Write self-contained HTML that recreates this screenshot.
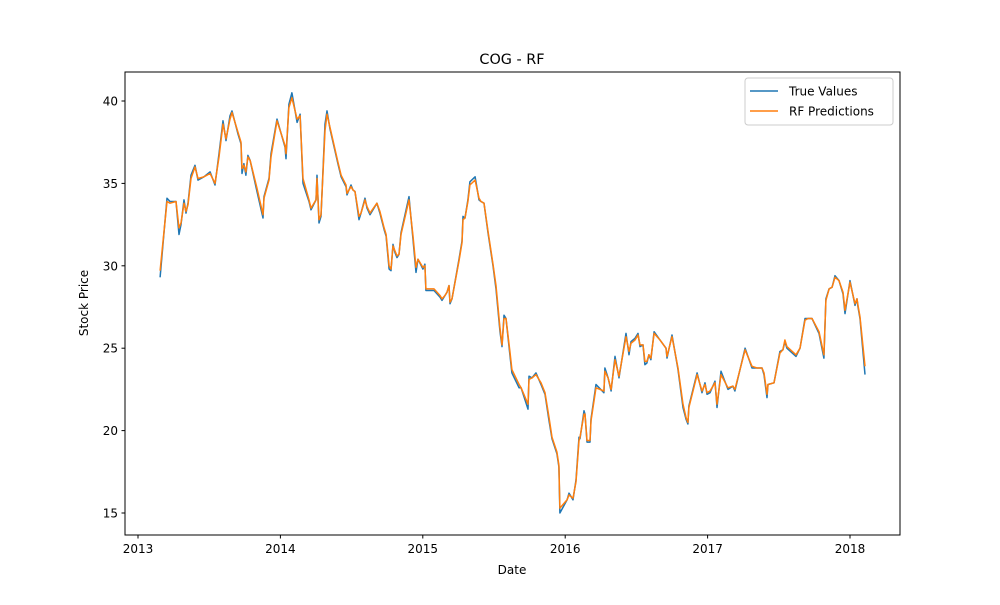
<!DOCTYPE html>
<html><head><meta charset="utf-8"><style>
body{margin:0;background:#fff;font-family:"Liberation Sans","DejaVu Sans",sans-serif}
svg text{font-family:"DejaVu Sans","Liberation Sans",sans-serif;fill:#000}
</style></head><body>
<svg id="chart" width="1000" height="600" xmlns="http://www.w3.org/2000/svg">
<rect width="1000" height="600" fill="#fff"/>
<text x="512" y="64" font-size="14.4" text-anchor="middle">COG - RF</text>
<g id="plot"></g>
<rect x="125" y="72" width="775" height="463" fill="none" stroke="#000" stroke-width="1"/>
<text x="512" y="574" font-size="12" text-anchor="middle">Date</text>
<text transform="translate(88,303) rotate(-90)" font-size="12" text-anchor="middle">Stock Price</text>
<g>
<rect x="745" y="78" width="148" height="47" rx="3" fill="#fff" fill-opacity="0.8" stroke="#ccc"/>
<line x1="750" y1="91" x2="778" y2="91" stroke="#1f77b4" stroke-width="1.5"/>
<text x="789" y="95.5" font-size="12">True Values</text>
<line x1="750" y1="111" x2="778" y2="111" stroke="#ff7f0e" stroke-width="1.5"/>
<text x="789" y="115.5" font-size="12">RF Predictions</text>
</g>
</svg>
<script>
const dates=[2013.155,2013.204,2013.225,2013.267,2013.288,2013.302,2013.323,2013.337,2013.351,2013.372,2013.400,2013.421,2013.463,2013.506,2013.541,2013.569,2013.597,2013.618,2013.646,2013.660,2013.702,2013.723,2013.730,2013.744,2013.758,2013.772,2013.787,2013.836,2013.878,2013.885,2013.920,2013.934,2013.976,2014.032,2014.039,2014.060,2014.081,2014.117,2014.138,2014.159,2014.201,2014.215,2014.250,2014.257,2014.271,2014.285,2014.313,2014.327,2014.348,2014.404,2014.426,2014.461,2014.468,2014.496,2014.510,2014.524,2014.552,2014.566,2014.594,2014.608,2014.629,2014.678,2014.699,2014.728,2014.742,2014.763,2014.777,2014.791,2014.805,2014.819,2014.833,2014.847,2014.903,2014.931,2014.952,2014.966,2015.001,2015.015,2015.022,2015.079,2015.121,2015.135,2015.156,2015.170,2015.184,2015.191,2015.205,2015.254,2015.275,2015.282,2015.296,2015.317,2015.331,2015.367,2015.395,2015.409,2015.430,2015.458,2015.493,2015.514,2015.542,2015.556,2015.570,2015.584,2015.612,2015.626,2015.676,2015.690,2015.739,2015.746,2015.767,2015.795,2015.830,2015.858,2015.886,2015.907,2015.942,2015.956,2015.963,2016.013,2016.027,2016.055,2016.076,2016.097,2016.104,2016.132,2016.139,2016.153,2016.174,2016.181,2016.216,2016.272,2016.279,2016.301,2016.322,2016.350,2016.378,2016.427,2016.448,2016.462,2016.490,2016.511,2016.525,2016.546,2016.560,2016.574,2016.588,2016.602,2016.624,2016.666,2016.708,2016.715,2016.750,2016.792,2016.827,2016.848,2016.862,2016.869,2016.926,2016.961,2016.982,2016.996,2017.017,2017.052,2017.066,2017.094,2017.143,2017.178,2017.192,2017.263,2017.312,2017.347,2017.382,2017.396,2017.417,2017.424,2017.466,2017.508,2017.529,2017.543,2017.557,2017.621,2017.649,2017.684,2017.705,2017.733,2017.782,2017.817,2017.831,2017.853,2017.874,2017.895,2017.923,2017.951,2017.965,2018.000,2018.035,2018.049,2018.056,2018.070,2018.105];
const trueVals=[29.3,34.1,33.9,33.9,31.9,32.5,34.0,33.2,33.8,35.5,36.1,35.2,35.4,35.7,34.9,36.8,38.8,37.6,39.1,39.4,38.0,37.4,35.6,36.2,35.5,36.7,36.4,34.5,32.9,34.2,35.3,36.8,38.9,37.2,36.5,39.8,40.5,38.7,39.2,35.0,33.9,33.4,34.0,35.5,32.6,33.0,38.6,39.4,38.3,36.2,35.4,34.8,34.3,34.9,34.6,34.5,32.8,33.2,34.1,33.5,33.1,33.8,33.2,32.2,31.8,29.8,29.7,31.3,30.8,30.5,30.7,32.0,34.2,31.6,29.6,30.4,29.8,30.1,28.5,28.5,28.1,27.9,28.2,28.4,28.8,27.7,28.0,30.4,31.5,33.0,32.9,34.0,35.1,35.4,34.0,33.9,33.8,32.0,30.0,28.6,26.0,25.1,27.0,26.8,24.6,23.5,22.6,22.6,21.3,23.3,23.2,23.5,22.8,22.2,20.6,19.5,18.6,17.8,15.0,15.8,16.2,15.8,17.0,19.6,19.5,21.2,21.0,19.3,19.3,20.7,22.8,22.3,23.8,23.2,22.4,24.5,23.2,25.9,24.6,25.4,25.6,25.9,25.1,25.2,24.0,24.1,24.6,24.3,26.0,25.5,25.0,24.4,25.8,23.7,21.4,20.7,20.4,21.5,23.5,22.3,22.9,22.2,22.3,23.0,21.4,23.6,22.5,22.7,22.4,25.0,23.8,23.8,23.8,23.4,22.0,22.8,22.9,24.8,24.9,25.4,25.0,24.5,25.0,26.8,26.8,26.8,25.9,24.4,28.0,28.6,28.7,29.4,29.1,28.3,27.1,29.1,27.6,28.0,27.5,26.8,23.4];
const rfVals=[29.7,33.9,33.8,33.9,32.3,32.6,33.8,33.3,33.7,35.3,36.0,35.3,35.4,35.6,35.0,36.6,38.6,37.7,38.9,39.3,38.1,37.5,35.9,36.1,35.7,36.6,36.4,34.7,33.1,34.1,35.2,36.6,38.8,37.3,36.8,39.6,40.2,38.9,39.1,35.3,34.0,33.5,34.0,35.3,32.8,33.1,38.2,39.2,38.4,36.3,35.5,34.9,34.4,34.8,34.6,34.5,33.0,33.2,34.0,33.6,33.2,33.8,33.3,32.3,31.9,30.0,29.8,31.2,30.9,30.6,30.7,31.9,34.0,31.8,29.9,30.4,29.9,30.0,28.6,28.6,28.2,28.0,28.2,28.4,28.8,27.8,28.0,30.3,31.4,32.8,32.9,33.9,34.9,35.2,34.1,33.9,33.8,32.1,30.1,28.8,26.2,25.2,26.8,26.8,24.8,23.7,22.8,22.6,21.6,23.1,23.2,23.4,22.9,22.3,20.8,19.6,18.7,17.9,15.3,15.8,16.1,15.9,16.9,19.4,19.6,21.0,21.0,19.4,19.4,20.6,22.6,22.4,23.6,23.2,22.5,24.3,23.3,25.7,24.8,25.3,25.5,25.8,25.2,25.2,24.2,24.2,24.6,24.4,25.9,25.5,25.0,24.5,25.7,23.8,21.6,20.8,20.5,21.4,23.4,22.4,22.8,22.3,22.4,22.9,21.6,23.4,22.6,22.7,22.5,24.9,23.9,23.8,23.8,23.5,22.2,22.8,22.9,24.7,24.9,25.5,25.1,24.6,25.0,26.7,26.8,26.8,26.0,24.6,27.9,28.6,28.7,29.3,29.1,28.4,27.3,29.0,27.7,28.0,27.6,26.9,23.9];
const xTicks=[2013,2014,2015,2016,2017,2018];
const yTicks=[15,20,25,30,35,40];
const NS="http://www.w3.org/2000/svg";
const xs=d=>138+(d-2013)*142.4;
const ys=v=>513-(v-15)*16.48;
const plot=document.getElementById('plot');
function mk(t,a){const e=document.createElementNS(NS,t);for(const k in a)e.setAttribute(k,a[k]);return e;}
xTicks.forEach(t=>{
  const g=mk('g',{});
  
  
  g.appendChild(mk('line',{x1:xs(t),x2:xs(t),y1:535,y2:538.5,stroke:'#000'}));
  const tx=mk('text',{x:xs(t),y:553,'font-size':12,'text-anchor':'middle'});tx.textContent=t;g.appendChild(tx);
  plot.appendChild(g);
});
yTicks.forEach(t=>{
  const g=mk('g',{});
  
  
  g.appendChild(mk('line',{x1:121.5,x2:125,y1:ys(t),y2:ys(t),stroke:'#000'}));
  const tx=mk('text',{x:118,y:ys(t)+4.5,'font-size':12,'text-anchor':'end'});tx.textContent=t;g.appendChild(tx);
  plot.appendChild(g);
});
function series(vals,color,name){
  const n=Math.min(vals.length,dates.length);
  const pts=[];
  for(let i=0;i<n;i++)pts.push(xs(dates[i]).toFixed(1)+','+ys(vals[i]).toFixed(1));
  const p=mk('polyline',{points:pts.join(' '),fill:'none',stroke:color,'stroke-width':1.5,'stroke-linejoin':'round'});
  
  
  plot.appendChild(p);
}
series(trueVals,'#1f77b4','true-values-line');
series(rfVals,'#ff7f0e','rf-predictions-line');
</script>
</body></html>
